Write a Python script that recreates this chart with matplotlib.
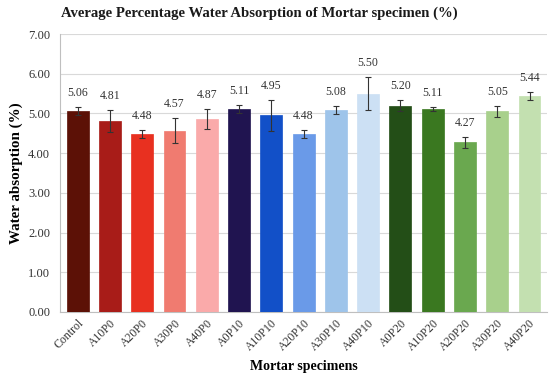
import matplotlib
matplotlib.use("Agg")
import matplotlib.pyplot as plt
import numpy as np

categories = ["Control", "A10P0", "A20P0", "A30P0", "A40P0", "A0P10", "A10P10", "A20P10",
              "A30P10", "A40P10", "A0P20", "A10P20", "A20P20", "A30P20", "A40P20"]
values = [5.06, 4.81, 4.48, 4.57, 4.87, 5.11, 4.95, 4.48, 5.08, 5.50, 5.20, 5.11, 4.27, 5.05, 5.44]
errors = [0.10, 0.28, 0.10, 0.32, 0.25, 0.10, 0.40, 0.11, 0.10, 0.42, 0.13, 0.05, 0.13, 0.15, 0.10]
colors = ["#5C1106", "#A81C18", "#E83020", "#F07B70", "#FAAAAA",
          "#201450", "#1250C8", "#6A9AE8", "#9EC4EA", "#CCE0F4",
          "#234E17", "#3A7820", "#6AA84F", "#A8D08C", "#C3E0B0"]
yticks = [0, 1, 2, 3, 4, 5, 6, 7]

plt.rcParams['font.family'] = ['Liberation Serif', 'DejaVu Serif']

fig = plt.figure(figsize=(5.5, 3.79), dpi=100)
ax = fig.add_axes([0.109, 0.177, 0.886, 0.733])

x = np.arange(len(categories))
ax.bar(x, values, width=0.68, color=colors, edgecolor=colors, linewidth=0.5, zorder=3)
ax.errorbar(x, values, yerr=errors, fmt='none', ecolor='#333333', elinewidth=0.8,
            capsize=2.5, capthick=0.8, zorder=4)
for xi, v, e in zip(x, values, errors):
    ax.text(xi, v + e + 0.2, f"{v:.2f}", ha='center', va='bottom', fontsize=8.5, color='#333333')

ax.set_ylim(0, 7)
ax.set_xlim(-0.55, len(categories) - 0.45)
ax.set_yticks(yticks)
ax.set_yticklabels([f"{t:.2f}" for t in yticks], fontsize=9, color='#333333')
ax.set_xticks(x)
ax.set_xticklabels(categories, rotation=45, ha='right', rotation_mode='anchor', fontsize=8.5, color='#333333')
ax.tick_params(axis='y', length=0, pad=7)
ax.tick_params(axis='x', length=0, pad=4)
ax.yaxis.grid(True, color='#D9D9D9', linewidth=0.8, zorder=0)
ax.set_axisbelow(True)
for s in ['top', 'right']:
    ax.spines[s].set_visible(False)
ax.spines['left'].set_color('#BFBFBF')
ax.spines['bottom'].set_color('#BFBFBF')

ax.set_ylabel("Water absorption (%)", fontsize=10.8, fontweight='bold', labelpad=4)
ax.set_xlabel("Mortar specimens", fontsize=10, fontweight='bold', labelpad=5)
fig.text(0.471, 0.965, "Average Percentage Water Absorption of Mortar specimen (%)",
         ha='center', va='center', fontsize=10.6, fontweight='bold', color='#1a1a1a')

fig.savefig("out.png", dpi=100)
